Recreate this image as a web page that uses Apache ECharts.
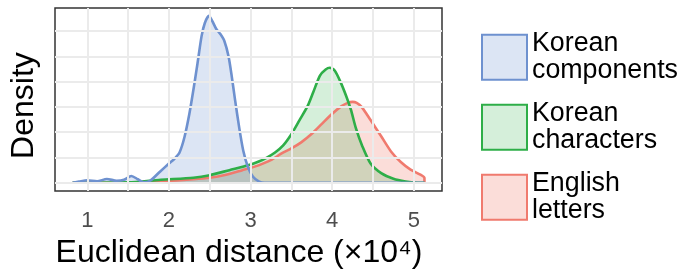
<!DOCTYPE html>
<html>
<head>
<meta charset="utf-8">
<script src="https://cdn.jsdelivr.net/npm/echarts@6/dist/echarts.min.js"></script>
<style>
html,body{margin:0;padding:0;background:#fff;}
#chart{width:681px;height:274px;}
</style>
</head>
<body>
<div id="chart"></div>
<script>
// ---- data (x in units of 10^4) ----
const seriesNames = ['Korean\ncomponents', 'Korean\ncharacters', 'English\nletters'];
const xTickLabels = [1, 2, 3, 4, 5];
const xGridValues = [1, 1.5, 2, 2.5, 3, 3.5, 4, 4.5, 5];
const yGridValues = [0, 0.25, 0.5, 0.75, 1, 1.25, 1.5];

const blueX = [0.82, 0.9, 1.0, 1.12, 1.24, 1.36, 1.45, 1.54, 1.62, 1.69, 1.77, 1.89, 2.0, 2.07, 2.13, 2.19, 2.25, 2.3, 2.35, 2.4, 2.44, 2.49, 2.53, 2.58, 2.63, 2.68, 2.73, 2.77, 2.81, 2.86, 2.91, 2.97, 3.03, 3.1, 3.17, 3.3, 4.0, 5.13];
const blueY = [0, 0.012, 0.025, 0.015, 0.038, 0.02, 0.03, 0.068, 0.035, 0.004, 0.02, 0.11, 0.19, 0.24, 0.3, 0.45, 0.68, 0.92, 1.18, 1.45, 1.58, 1.65, 1.6, 1.52, 1.47, 1.4, 1.25, 1.05, 0.82, 0.55, 0.32, 0.15, 0.06, 0.015, 0, 0, 0, 0];

const greenX = [0.82, 1.5, 1.9, 2.3, 2.5, 2.74, 2.98, 3.1, 3.2, 3.3, 3.4, 3.5, 3.6, 3.7, 3.77, 3.85, 3.92, 3.97, 4.03, 4.1, 4.17, 4.23, 4.29, 4.37, 4.47, 4.6, 4.75, 4.9, 5.0, 5.13];
const greenY = [0, 0.004, 0.03, 0.05, 0.075, 0.125, 0.175, 0.21, 0.25, 0.3, 0.37, 0.48, 0.62, 0.76, 0.9, 1.06, 1.12, 1.137, 1.11, 1.0, 0.86, 0.72, 0.54, 0.36, 0.19, 0.095, 0.04, 0.012, 0.003, 0];

const redX = [0.82, 1.5, 1.9, 2.3, 2.5, 2.7, 2.9, 3.05, 3.15, 3.26, 3.38, 3.5, 3.62, 3.75, 3.87, 3.99, 4.11, 4.19, 4.25, 4.3, 4.36, 4.47, 4.6, 4.72, 4.84, 4.96, 5.08, 5.13, 5.13];
const redY = [0, 0.003, 0.015, 0.035, 0.05, 0.08, 0.125, 0.16, 0.19, 0.23, 0.29, 0.34, 0.4, 0.485, 0.58, 0.675, 0.755, 0.79, 0.80, 0.79, 0.75, 0.62, 0.46, 0.31, 0.205, 0.13, 0.08, 0.047, 0];

const FONT = '"Liberation Sans", Arial, Helvetica, sans-serif';
const blueLine = '#6e91cf', blueFill = 'rgba(110,145,207,0.24)';
const greenLine = '#2eae48', greenFill = 'rgba(46,174,72,0.2)';
const redLine = '#f07a6e', redFill = 'rgba(240,122,110,0.26)';

function pairs(xs, ys) { return xs.map((x, i) => [x, ys[i]]); }

const chart = echarts.init(document.getElementById('chart'), null, {renderer: 'canvas'});

const gridLineData = xGridValues.map(v => ({xAxis: v})).concat(yGridValues.map(v => ({yAxis: v})));

function densitySeries(name, xs, ys, line, fill) {
  return {
    name: name, type: 'line', smooth: 0.25, showSymbol: false, symbol: 'none', z: 3,
    data: pairs(xs, ys),
    lineStyle: {color: line, width: 2.6},
    itemStyle: {color: line},
    areaStyle: {color: fill, opacity: 1},
    emphasis: {disabled: true}
  };
}

chart.setOption({
  animation: false,
  backgroundColor: '#ffffff',
  textStyle: {fontFamily: FONT},
  grid: {left: 52, top: 8, width: 390, height: 187, show: true, borderColor: '#333333', borderWidth: 1.5, backgroundColor: '#ffffff', containLabel: false},
  xAxis: {
    type: 'value', min: 0.6045, max: 5.345,
    axisLine: {show: false}, axisTick: {show: false}, splitLine: {show: false},
    axisLabel: {customValues: xTickLabels, color: '#4d4d4d', fontSize: 22, margin: 19, fontFamily: FONT},
    name: 'Euclidean distance (×10⁴)', nameLocation: 'middle', nameGap: 43,
    nameTextStyle: {fontSize: 32, color: '#000', fontFamily: FONT, padding: [0, 19, 0, 0]}
  },
  yAxis: {
    type: 'value', min: -0.082, max: 1.728,
    axisLine: {show: false}, axisTick: {show: false}, splitLine: {show: false},
    axisLabel: {show: false},
    name: 'Density', nameLocation: 'middle', nameGap: 15, nameRotate: 90,
    nameTextStyle: {fontSize: 32, color: '#000', fontFamily: FONT, padding: [0, 12, 0, 0]}
  },
  legend: {
    orient: 'vertical', left: 481, top: 30.5, padding: 0,
    itemWidth: 45, itemHeight: 45, itemGap: 16.3,
    selectedMode: false,
    textStyle: {fontSize: 26.8, lineHeight: 26.7, color: '#000', fontFamily: FONT},
    data: [
      {name: seriesNames[0], icon: 'rect', itemStyle: {color: blueFill, borderColor: blueLine, borderWidth: 2}},
      {name: seriesNames[1], icon: 'rect', itemStyle: {color: greenFill, borderColor: greenLine, borderWidth: 2}},
      {name: seriesNames[2], icon: 'rect', itemStyle: {color: redFill, borderColor: redLine, borderWidth: 2}}
    ]
  },
  series: [
    {
      name: 'grid', type: 'line', z: 1, data: [], showSymbol: false,
      markLine: {silent: true, symbol: ['none', 'none'], label: {show: false}, animation: false,
        lineStyle: {color: '#ebebeb', width: 2, type: 'solid'}, emphasis: {disabled: true},
        data: gridLineData}
    },
    densitySeries(seriesNames[2], redX, redY, redLine, redFill),
    densitySeries(seriesNames[1], greenX, greenY, greenLine, greenFill),
    densitySeries(seriesNames[0], blueX, blueY, blueLine, blueFill)
  ]
});
</script>
</body>
</html>
